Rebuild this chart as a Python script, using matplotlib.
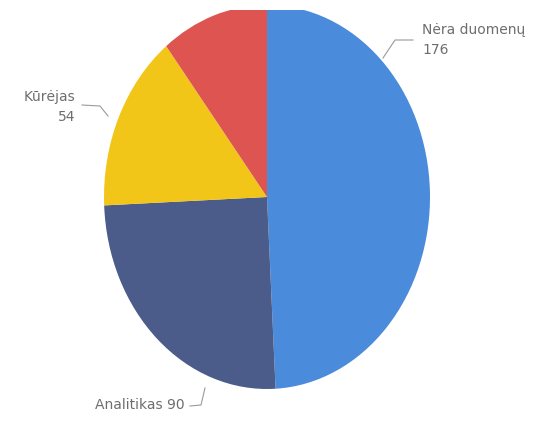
import matplotlib.pyplot as plt
from matplotlib.lines import Line2D

# slice data, clockwise from 12 o'clock
labels = ["Nėra duomenų", "Analitikas", "Kūrėjas", "Kita"]
values = [176, 90, 54, 38]
colors = ["#4a8bdb", "#4b5c8a", "#f2c618", "#de5451"]

W, H = 551, 425
CX, CY, RX, RY = 267, 197, 163, 192  # pie centre / radii in pixels
TOP = 10  # pie is cut off above this pixel row


def fig_xy(px, py):
    return px / W, 1 - py / H


fig = plt.figure(figsize=(W / 100, H / 100), dpi=100)
# axes stops at TOP so the wedges get clipped there like in the original
ax = fig.add_axes([0, 0, 1, (H - TOP) / H])

wedges, _ = ax.pie(values, colors=colors, startangle=90, counterclock=False,
                   radius=1, center=(0, 0), wedgeprops=dict(linewidth=0))
for w in wedges:
    w.set_clip_on(True)  # pie turns clipping off by default

ax.set_aspect("auto")
ax.set_xlim(-CX / RX, (W - CX) / RX)
ax.set_ylim(-(H - CY) / RY, (CY - TOP) / RY)
ax.axis("off")

txt = dict(color="#6e6e6e", fontsize=10, family="DejaVu Sans")
line = dict(color="#9a9a9a", linewidth=0.8)

# Nėra duomenų
fig.text(*fig_xy(422, 30), "Nėra duomenų", ha="left", va="center", **txt)
fig.text(*fig_xy(422, 50), "176", ha="left", va="center", **txt)
pts = [(383, 58), (395, 40), (413, 40)]
fig.add_artist(Line2D(*zip(*[fig_xy(*p) for p in pts]), **line))

# Kūrėjas
fig.text(*fig_xy(75, 97), "Kūrėjas", ha="right", va="center", **txt)
fig.text(*fig_xy(75, 117), "54", ha="right", va="center", **txt)
pts = [(82, 105), (100, 106), (108, 116)]
fig.add_artist(Line2D(*zip(*[fig_xy(*p) for p in pts]), **line))

# Analitikas
fig.text(*fig_xy(185, 405), "Analitikas 90", ha="right", va="center", **txt)
pts = [(190, 406), (201, 405), (205, 388)]
fig.add_artist(Line2D(*zip(*[fig_xy(*p) for p in pts]), **line))

fig.savefig("out.png", dpi=100, facecolor="white")
